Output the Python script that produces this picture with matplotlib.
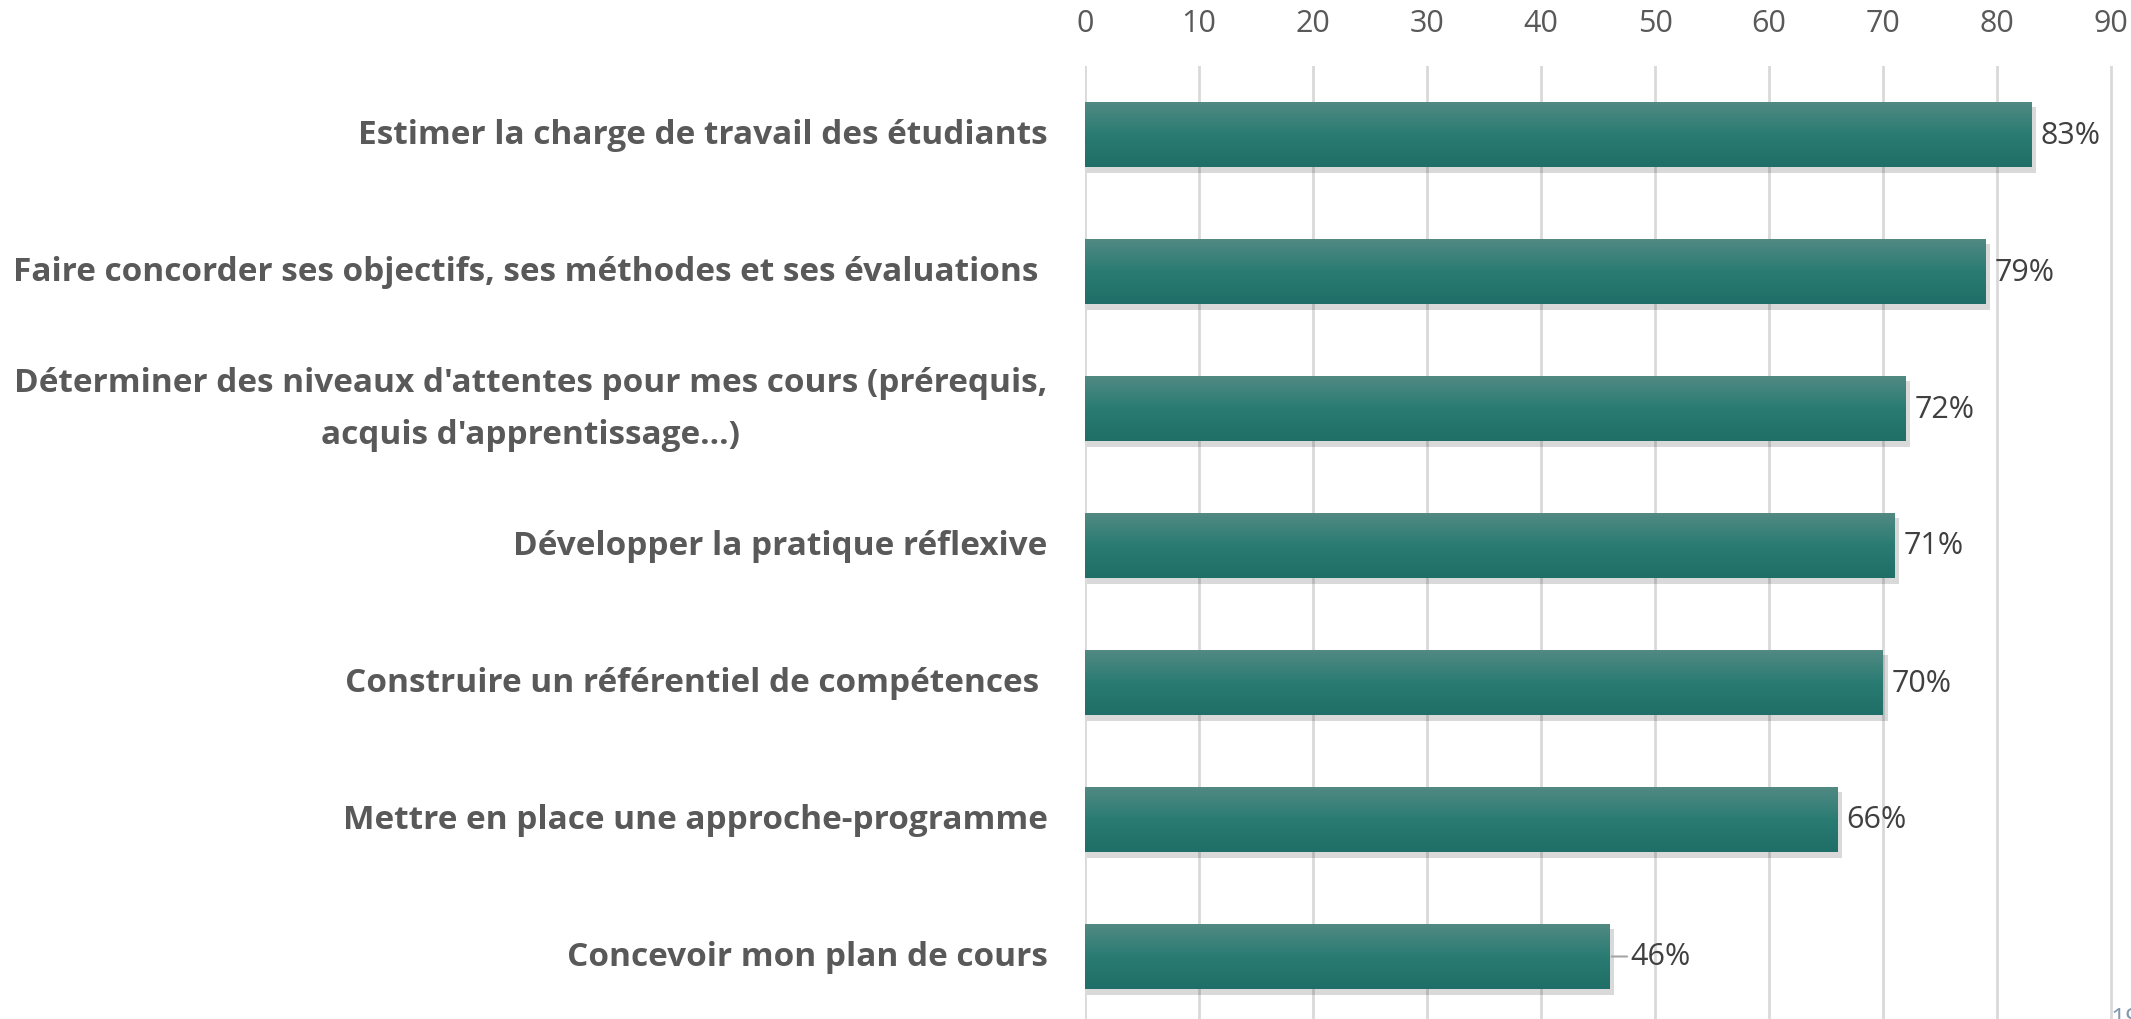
import numpy as np
import matplotlib
matplotlib.use("Agg")
import matplotlib.pyplot as plt
from matplotlib.colors import LinearSegmentedColormap

# === données ===
categories = [
    "Estimer la charge de travail des étudiants",
    "Faire concorder ses objectifs, ses méthodes et ses évaluations ",
    "Déterminer des niveaux d'attentes pour mes cours (prérequis,\nacquis d'apprentissage...)",
    "Développer la pratique réflexive",
    "Construire un référentiel de compétences ",
    "Mettre en place une approche-programme",
    "Concevoir mon plan de cours",
]
values = [83, 79, 72, 71, 70, 66, 46]
value_labels = ["83%", "79%", "72%", "71%", "70%", "66%", "46%"]
x_ticks = [0, 10, 20, 30, 40, 50, 60, 70, 80, 90, 100]

plt.rcParams['font.family'] = ['Open Sans', 'DejaVu Sans']

W, H = 2131, 1020
fig = plt.figure(figsize=(W / 100, H / 100), dpi=100)
# l'axe dépasse à droite (100 coupé comme dans l'original)
ax = fig.add_axes([1085 / W, -6 / H, 1140 / W, 959 / H])

ax.set_xlim(0, 100)
ax.set_ylim(6.5, -0.5)
ax.set_xticks(x_ticks)
ax.xaxis.tick_top()
ax.tick_params(axis='x', length=0, pad=20, labelsize=22, labelcolor='#595959')
ax.tick_params(axis='y', length=0)
ax.set_yticks(range(len(categories)))
ax.set_yticklabels([])
for s in ax.spines.values():
    s.set_visible(False)
ax.grid(axis='x', color='#D9D9D9', linewidth=2)
ax.set_axisbelow(True)

grad = LinearSegmentedColormap.from_list("g", ["#528A83", "#2A7C73", "#1F6E67"])
bar_h = 0.475
bars = ax.barh(range(len(values)), values, height=bar_h, color='none', zorder=3)
for i, (b, v) in enumerate(zip(bars, values)):
    y0 = i - bar_h / 2
    # ombre
    ax.barh(i + 0.04, v + 0.25, height=bar_h, left=0.15, color='#000000', alpha=0.15, zorder=2,
            linewidth=0)
    im = ax.imshow(np.linspace(0, 1, 100).reshape(-1, 1), cmap=grad, aspect='auto',
                   extent=[0, v, y0 + bar_h, y0], zorder=4)
    im.set_clip_path(b)

for i, (v, lab) in enumerate(zip(values, value_labels)):
    if i == len(values) - 1:
        ax.annotate(lab, xy=(v + 0.2, i), xytext=(v + 1.8, i), va='center', ha='left',
                    fontsize=22, color='#404040', zorder=5,
                    arrowprops=dict(arrowstyle='-', color='#A6A6A6', lw=1.5, shrinkA=0, shrinkB=0))
    else:
        ax.text(v + 0.8, i, lab, va='center', ha='left', fontsize=22, color='#404040', zorder=5)

for i, cat in enumerate(categories):
    ax.text(-3.3, i, cat, va='center', ha='right', multialignment='center',
            fontsize=24, fontweight='bold', color='#595959', linespacing=1.75)

fig.text(2111 / W, 1 / H, "19", fontsize=19, color='#8497B0', ha='left', va='center')

fig.savefig("out.png", dpi=100)
